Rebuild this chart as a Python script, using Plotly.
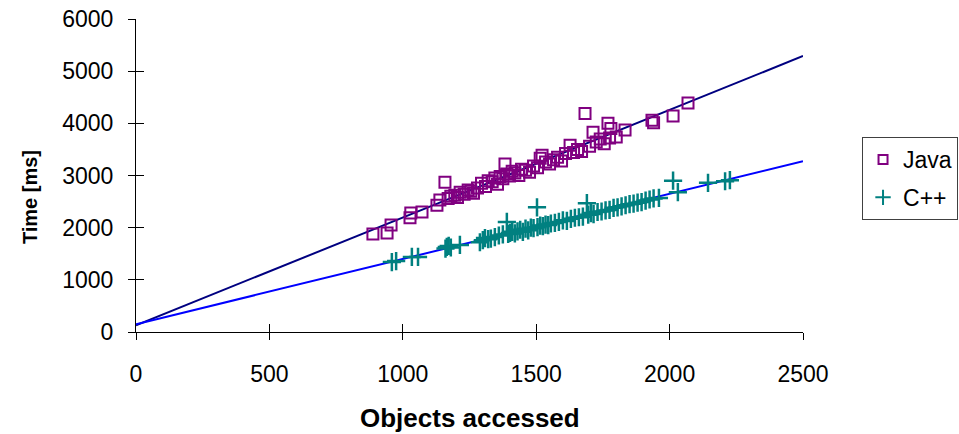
import plotly.graph_objects as go

# Java measurements
java_x = [888, 941, 956, 1027, 1030, 1072, 1128, 1139, 1158, 1170, 1180, 1195, 1205, 1215,
          1230, 1245, 1255, 1265, 1280, 1295, 1310, 1320, 1335, 1345, 1355, 1365, 1375, 1383,
          1390, 1400, 1410, 1420, 1435, 1445, 1460, 1475, 1490, 1505, 1515, 1522, 1535, 1550,
          1565, 1580, 1595, 1610, 1627, 1640, 1655, 1670, 1683, 1700, 1713, 1725, 1740, 1755,
          1769, 1775, 1780, 1800, 1833, 1934, 1940, 2013, 2069]
java_y = [1880, 1900, 2050, 2190, 2280, 2300, 2430, 2530, 2870, 2560, 2600, 2620, 2580, 2680,
          2640, 2720, 2700, 2660, 2760, 2850, 2790, 2900, 2880, 2950, 2830, 2980, 2940, 3220,
          3030, 2990, 3080, 3050, 3000, 3120, 3100, 3060, 3180, 3150, 3330, 3390, 3260, 3220,
          3300, 3350, 3280, 3420, 3580, 3440, 3500, 3460, 4190, 3560, 3830, 3640, 3700, 3610,
          4000, 3720, 3900, 3740, 3870, 4060, 4010, 4140, 4390]

# C++ measurements
cpp_x = [959, 975, 1034, 1057, 1160, 1165, 1172, 1180, 1214, 1289, 1300, 1308, 1320, 1330,
         1345, 1360, 1375, 1390, 1395, 1402, 1410, 1420, 1430, 1440, 1450, 1460, 1470, 1480,
         1490, 1503, 1505, 1515, 1525, 1535, 1545, 1555, 1570, 1585, 1600, 1615, 1630, 1645,
         1660, 1675, 1690, 1695, 1705, 1715, 1730, 1745, 1760, 1775, 1790, 1805, 1820, 1835,
         1850, 1865, 1880, 1895, 1910, 1925, 1940, 1960, 2013, 2031, 2144, 2208, 2226]
cpp_y = [1340, 1360, 1440, 1440, 1600, 1630, 1650, 1620, 1670, 1720, 1760, 1800, 1780, 1790,
         1820, 1850, 1870, 2110, 1880, 1900, 1920, 1890, 1930, 1960, 1920, 1980, 1950, 2000,
         1990, 2390, 2010, 2040, 2030, 2060, 2050, 2080, 2090, 2110, 2140, 2130, 2170, 2190,
         2200, 2210, 2470, 2250, 2280, 2260, 2300, 2310, 2330, 2340, 2380, 2390, 2410, 2430,
         2450, 2460, 2480, 2490, 2520, 2540, 2560, 2570, 2900, 2680, 2860, 2890, 2910]

# Linear trend lines (endpoints)
trend_x = [0, 2500]
java_trend = [130, 5290]
cpp_trend = [150, 3275]

x_ticks = [0, 500, 1000, 1500, 2000, 2500]
y_ticks = [0, 1000, 2000, 3000, 4000, 5000, 6000]

FONT = "Liberation Sans, Arial, sans-serif"
JAVA_C = "#800080"
CPP_C = "#008080"

fig = go.Figure()
fig.add_trace(go.Scatter(x=trend_x, y=java_trend, mode="lines",
                         line=dict(color="#000080", width=2), showlegend=False, hoverinfo="skip"))
fig.add_trace(go.Scatter(x=trend_x, y=cpp_trend, mode="lines",
                         line=dict(color="#0000FF", width=2), showlegend=False, hoverinfo="skip"))
fig.add_trace(go.Scatter(x=java_x, y=java_y, mode="markers", name="Java", showlegend=False,
                         marker=dict(symbol="square-open", size=11, color=JAVA_C,
                                     line=dict(width=2, color=JAVA_C))))
fig.add_trace(go.Scatter(x=cpp_x, y=cpp_y, mode="markers", name="C++", showlegend=False,
                         marker=dict(symbol="cross-thin-open", size=13, color=CPP_C,
                                     line=dict(width=2.5, color=CPP_C))))
# legend entries (smaller symbols, as in the original legend)
fig.add_trace(go.Scatter(x=[None], y=[None], mode="markers", name="Java", legendgroup="a",
                         marker=dict(symbol="square-open", size=9, color=JAVA_C,
                                     line=dict(width=2, color=JAVA_C))))
fig.add_trace(go.Scatter(x=[None], y=[None], mode="markers", name="C++", legendgroup="b",
                         marker=dict(symbol="cross-thin-open", size=11, color=CPP_C,
                                     line=dict(width=2, color=CPP_C))))

# overlay axes for inner half of cross ticks
fig.add_trace(go.Scatter(x=[None], y=[None], xaxis="x2", yaxis="y2", showlegend=False))

axis_common = dict(showgrid=False, zeroline=False, showline=True, linecolor="#000000",
                   linewidth=1, ticks="outside", ticklen=7, tickcolor="#000000",
                   automargin=False,
                   tickfont=dict(family=FONT, size=23, color="#000000"))

fig.update_layout(
    width=959, height=434,
    margin=dict(l=136, r=156, t=19, b=102, autoexpand=False),
    paper_bgcolor="white", plot_bgcolor="white",
    font=dict(family=FONT, size=23, color="#000000"),
    xaxis=dict(range=[0, 2500], tickvals=x_ticks, ticklabelstandoff=14, **axis_common),
    yaxis=dict(range=[0, 6000], tickvals=y_ticks, ticklabelstandoff=10, **axis_common),
    xaxis2=dict(overlaying="x", range=[0, 2500], tickvals=x_ticks, ticks="inside", ticklen=8,
                tickcolor="#000000", showticklabels=False, showgrid=False, zeroline=False,
                showline=False, anchor="y2", side="bottom"),
    yaxis2=dict(overlaying="y", range=[0, 6000], tickvals=y_ticks, ticks="inside", ticklen=8,
                tickcolor="#000000", showticklabels=False, showgrid=False, zeroline=False,
                showline=False, anchor="x2", side="left"),
    legend=dict(x=1.0885, y=0.623, xanchor="left", yanchor="top",
                bordercolor="#404040", borderwidth=1, bgcolor="white",
                font=dict(family=FONT, size=23), itemwidth=30,
                traceorder="grouped", tracegroupgap=5),
    showlegend=True,
    annotations=[
        dict(text="<b>Objects accessed</b>", xref="paper", yref="paper", x=0.5, y=0,
             xanchor="center", yanchor="middle", yshift=-86, showarrow=False,
             font=dict(family=FONT, size=26, color="#000000")),
        dict(text="<b>Time [ms]</b>", xref="paper", yref="paper", x=0, y=0.431,
             xanchor="center", yanchor="middle", xshift=-106, textangle=-90, showarrow=False,
             font=dict(family=FONT, size=20, color="#000000")),
    ],
)

fig.write_html("out.html", config={"displayModeBar": False},
               post_script="document.body.style.margin='0px';")
